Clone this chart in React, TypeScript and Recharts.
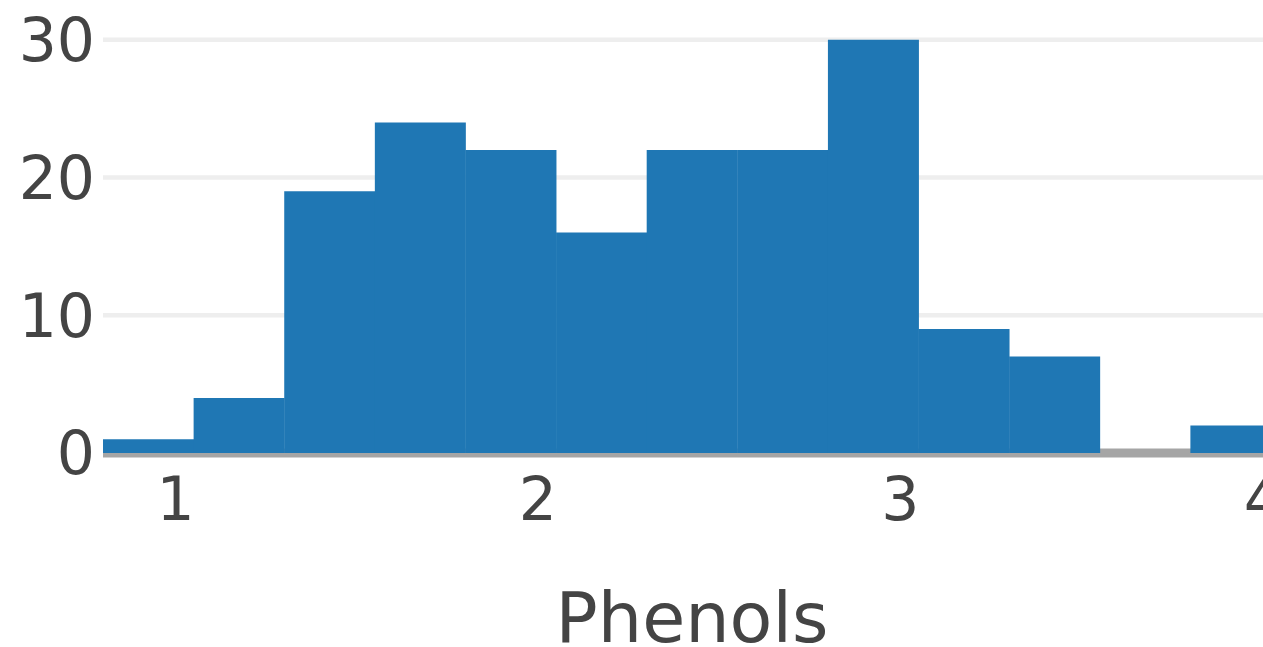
import { Bar, BarChart, CartesianGrid, XAxis, YAxis } from 'recharts';

// histogram of total phenols (bin width 0.25)
const binStarts = [0.8, 1.05, 1.3, 1.55, 1.8, 2.05, 2.3, 2.55, 2.8, 3.05, 3.3, 3.55, 3.8];
const counts = [1, 4, 19, 24, 22, 16, 22, 22, 30, 9, 7, 0, 2];
const xTicks = [1, 2, 3, 4];
const yTicks = [0, 10, 20, 30];
const gridValues = [10, 20, 30];
const zeroValue = [0];

const data = binStarts.map((start, i) => ({ bin: start, count: counts[i] }));

const FONT = '"DejaVu Sans", Verdana, sans-serif';

export default function App() {
  return (
    <div
      style={{
        position: 'fixed',
        left: 0,
        top: 0,
        width: 1263,
        height: 647,
        overflow: 'hidden',
        background: '#fff',
      }}
    >
      <BarChart
        width={1281}
        height={647}
        data={data}
        margin={{ top: 18, right: 0, bottom: 0, left: 0 }}
        barCategoryGap={0}
        barGap={0}
      >
        <CartesianGrid vertical={false} horizontalValues={gridValues} stroke="#eeeeee" strokeWidth={4.5} />
        <CartesianGrid vertical={false} horizontalValues={zeroValue} stroke="#a5a5a5" strokeWidth={9} />
        <XAxis xAxisId="cat" dataKey="bin" type="category" hide height={0} />
        <XAxis
          xAxisId="num"
          dataKey="bin"
          type="number"
          domain={[0.8, 4.05]}
          ticks={xTicks}
          height={194}
          axisLine={false}
          tickLine={false}
          tickSize={0}
          tickMargin={24}
          tick={{ fill: '#444', fontSize: 60, fontFamily: FONT }}
          label={{ value: 'Phenols', position: 'insideBottom', offset: 5, fill: '#444', fontSize: 70, fontFamily: FONT }}
        />
        <YAxis
          domain={[0, 31.58]}
          ticks={yTicks}
          width={103}
          axisLine={false}
          tickLine={false}
          tickSize={0}
          tickMargin={8}
          tick={{ fill: '#444', fontSize: 60, fontFamily: FONT }}
        />
        <Bar xAxisId="cat" dataKey="count" fill="#1f77b4" isAnimationActive={false} />
      </BarChart>
    </div>
  );
}
